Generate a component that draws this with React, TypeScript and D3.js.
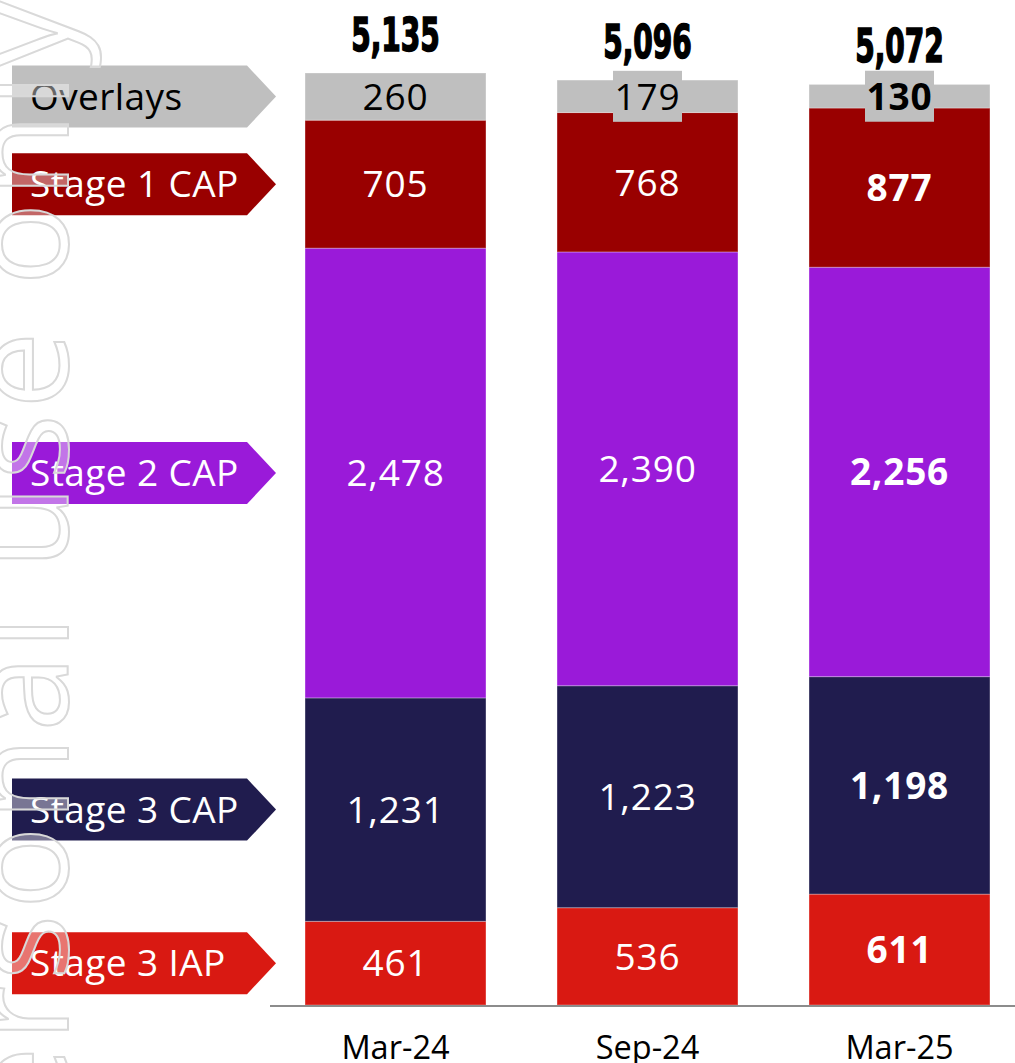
import React, { useEffect, useRef } from "react";
import * as d3 from "d3";

const categories = ["Mar-24", "Sep-24", "Mar-25"];
const seriesNames = ["Stage 3 IAP", "Stage 3 CAP", "Stage 2 CAP", "Stage 1 CAP", "Overlays"];
const stage3IAP = [461, 536, 611];
const stage3CAP = [1231, 1223, 1198];
const stage2CAP = [2478, 2390, 2256];
const stage1CAP = [705, 768, 877];
const overlays = [260, 179, 130];
const totals = [5135, 5096, 5072];
const seriesColors = ["#d91912", "#201c4e", "#9a1ad9", "#990000", "#bfbfbf"];
const labelColors = ["#fff", "#fff", "#fff", "#fff", "#000"];
const watermark = "For personal use only";

const App: React.FC = () => {
  const svgRef = useRef<SVGSVGElement | null>(null);

  useEffect(() => {
    const svg = d3.select(svgRef.current);
    svg.selectAll("*").remove();

    const width = 1015;
    const height = 1063;
    const font = "'Open Sans', 'Noto Sans', sans-serif";
    const narrow = "'Liberation Sans Narrow', 'DejaVu Sans Condensed', sans-serif";

    const values = [stage3IAP, stage3CAP, stage2CAP, stage1CAP, overlays];
    const table = categories.map((c, i) => {
      const row: any = { category: c };
      seriesNames.forEach((s, j) => (row[s] = values[j][i]));
      return row;
    });
    const stacked = d3.stack<any>().keys(seriesNames)(table);

    const x = d3
      .scaleBand<string>()
      .domain(categories)
      .range([269.5, 1025.5])
      .paddingInner(0.282)
      .paddingOuter(0.141);

    const y = d3.scaleLinear().domain([0, totals[0]]).range([1005, 73]);

    svg.append("rect").attr("width", width).attr("height", height).attr("fill", "white");

    // stacked bars
    const layers = svg
      .selectAll(".layer")
      .data(stacked)
      .enter()
      .append("g")
      .attr("class", "layer")
      .attr("fill", (_d, i) => seriesColors[i]);

    layers
      .selectAll("rect")
      .data((d) => d)
      .enter()
      .append("rect")
      .attr("x", (d) => x(d.data.category)!)
      .attr("y", (d) => y(d[1]))
      .attr("width", x.bandwidth())
      .attr("height", (d) => y(d[0]) - y(d[1]))
      .attr("stroke", "rgba(255,255,255,0.3)")
      .attr("stroke-width", 1);

    // small overlay segments get a label box
    stacked.forEach((layer, i) => {
      layer.forEach((d) => {
        const h = y(d[0]) - y(d[1]);
        if (h < 40) {
          const cx = x(d.data.category)! + x.bandwidth() / 2;
          const cy = (y(d[0]) + y(d[1])) / 2;
          svg
            .append("rect")
            .attr("x", cx - 34.5)
            .attr("y", cy - 25.5)
            .attr("width", 69)
            .attr("height", 51)
            .attr("fill", seriesColors[i]);
        }
      });
    });

    // segment labels
    stacked.forEach((layer, i) => {
      svg
        .append("g")
        .selectAll("text")
        .data(layer)
        .enter()
        .append("text")
        .attr("x", (d) => x(d.data.category)! + x.bandwidth() / 2)
        .attr("y", (d) => (y(d[0]) + y(d[1])) / 2)
        .attr("dy", "0.36em")
        .attr("text-anchor", "middle")
        .attr("fill", labelColors[i])
        .style("font-family", font)
        .style("font-size", "37px")
        .style("letter-spacing", "0.8px")
        .style("font-weight", (d) => (d.data.category === "Mar-25" ? 700 : 400))
        .text((d) => d3.format(",")(d[1] - d[0]));
    });

    // totals
    svg
      .append("g")
      .selectAll("text")
      .data(totals)
      .enter()
      .append("text")
      .attr(
        "transform",
        (d, i) =>
          `translate(${x(categories[i])! + x.bandwidth() / 2},${y(d) - 22}) scale(0.76,1.12)`
      )
      .attr("text-anchor", "middle")
      .attr("fill", "#000")
      .attr("stroke", "#000")
      .attr("stroke-width", 1.4)
      .style("font-family", narrow)
      .style("font-size", "41px")
      .style("font-weight", 700)
      .text((d) => d3.format(",")(d));

    // x axis
    svg
      .append("line")
      .attr("x1", 270)
      .attr("x2", width)
      .attr("y1", y(0) + 1)
      .attr("y2", y(0) + 1)
      .attr("stroke", "#8c8c8c")
      .attr("stroke-width", 2);

    svg
      .append("g")
      .selectAll("text")
      .data(categories)
      .enter()
      .append("text")
      .attr("x", (d) => x(d)! + x.bandwidth() / 2)
      .attr("y", 1059)
      .attr("text-anchor", "middle")
      .attr("fill", "#000")
      .style("font-family", font)
      .style("font-size", "32.5px")
      .text((d) => d);

    // arrow legend, aligned with first bar segments
    const arrow = (cy: number) =>
      `M12,${cy - 31}L247,${cy - 31}L276,${cy}L247,${cy + 31}L12,${cy + 31}Z`;
    stacked.forEach((layer, i) => {
      const d = layer[0];
      const cy = (y(d[0]) + y(d[1])) / 2;
      const g = svg.append("g");
      g.append("path").attr("d", arrow(cy)).attr("fill", seriesColors[i]);
      g.append("text")
        .attr("x", 30)
        .attr("y", cy)
        .attr("dy", "0.36em")
        .attr("fill", labelColors[i])
        .style("font-family", font)
        .style("font-size", "37px")
        .style("letter-spacing", "0.4px")
        .text(seriesNames[i]);
    });

    // watermark
    svg
      .append("text")
      .attr("transform", "translate(68,0) rotate(-90)")
      .attr("x", 6)
      .attr("text-anchor", "end")
      .attr("fill", "#fff")
      .attr("fill-opacity", 0.4)
      .attr("stroke", "#d9d9d9")
      .attr("stroke-width", 2)
      .style("font-family", font)
      .style("font-size", "138px")
      .style("letter-spacing", "5px")
      .text(watermark);
  }, []);

  return (
    <svg
      ref={svgRef}
      width={1015}
      height={1063}
      style={{ position: "absolute", left: 0, top: 0, display: "block" }}
    ></svg>
  );
};

export default App;
